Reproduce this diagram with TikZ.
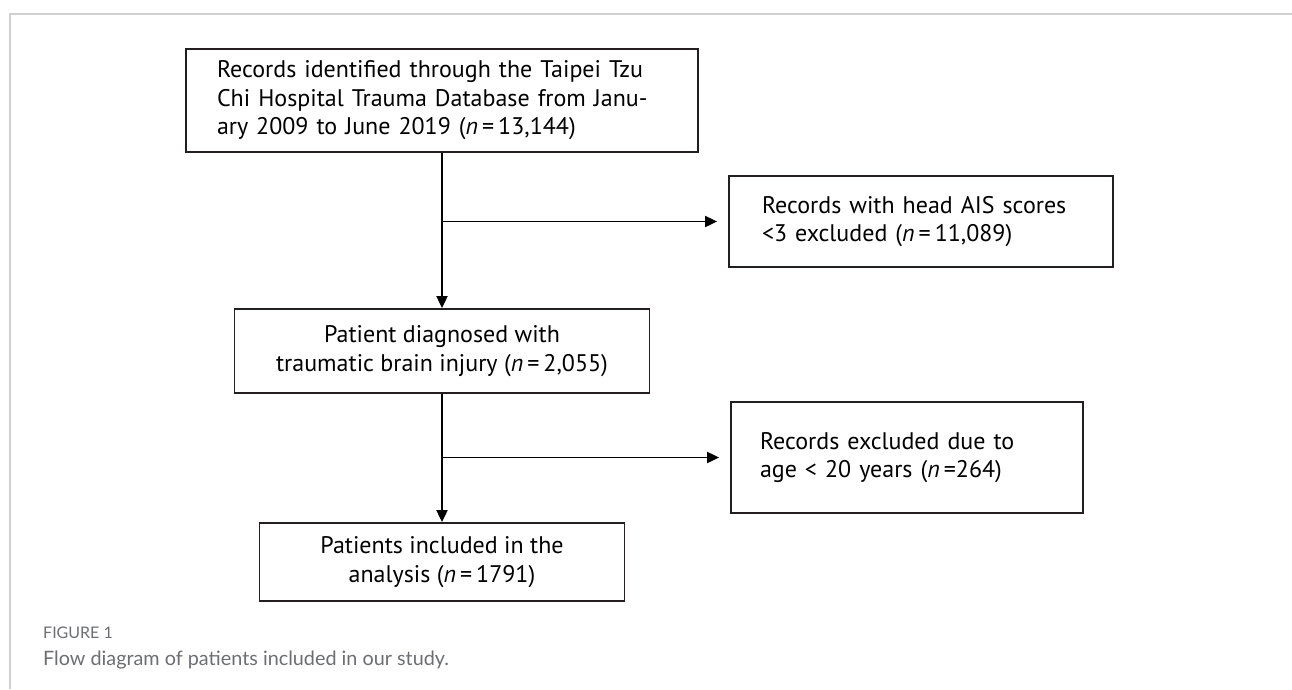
\documentclass[tikz,border=0pt]{standalone}
\usepackage{fontspec}
\setmainfont{PT Sans}
\newfontfamily\capfont{Lato}
\usetikzlibrary{arrows.meta,positioning}
\definecolor{framegray}{HTML}{D0D0D0}
\definecolor{capgray}{HTML}{6D6E71}
\definecolor{boxline}{HTML}{231F20}

\begin{document}
\begin{tikzpicture}[
    x=1pt,
    y=-1pt,
    box/.style={draw=boxline, line width=1.8pt, inner sep=0pt, font=\fontsize{24}{28.5}\selectfont},
    side/.style={box, align=left},
    flow/.style={line width=1.9pt, -{Triangle[length=12pt,width=11pt]}},
    captxt/.style={anchor=base west, inner sep=0pt, text=capgray}
]
\useasboundingbox (0,0) rectangle (1292,689);
\draw[framegray, line width=1.5pt] (10,689) -- (10,14) -- (1292,14);

\node[side, minimum width=512pt, minimum height=103pt, text width=450pt] (rec) at (442,100.5)
    {Records identified through the Taipei Tzu\\Chi Hospital Trauma Database from Janu-\\ary 2009 to June 2019 (\textit{n}\,=\,13,144)};
\node[side, minimum width=384pt, minimum height=91pt, text width=318pt] (ais) at (921,221.5)
    {Records with head AIS scores\\<3 excluded (\textit{n}\,=\,11,089)};
\node[box, minimum width=415pt, minimum height=84pt, align=center] (tbi) at (442,351)
    {Patient diagnosed with\\traumatic brain injury (\textit{n}\,=\,2,055)};
\node[side, minimum width=352pt, minimum height=111pt, text width=294pt] (age) at (907,457.5)
    {Records excluded due to\\age < 20 years (\textit{n}\,=264)};
\node[box, minimum width=365pt, minimum height=78pt, align=center] (incl) at (442,562)
    {Patients included in the\\analysis (\textit{n}\,=\,1791)};

\draw[flow] (rec.south) -- (rec.south |- tbi.north);
\draw[flow, shorten >=11pt] (rec.south |- ais.west) -- (ais.west);
\draw[flow] (tbi.south) -- (tbi.south |- incl.north);
\draw[flow, shorten >=11pt] (tbi.south |- age.west) -- (age.west);

\node[captxt, font=\capfont\fontsize{16}{19}\selectfont] (fig) at (43,638) {FIGURE 1};
\node[captxt, font=\capfont\fontsize{19.8}{23}\selectfont] (txt) at (43,665) {Flow diagram of patients included in our study.};
\end{tikzpicture}
\end{document}
